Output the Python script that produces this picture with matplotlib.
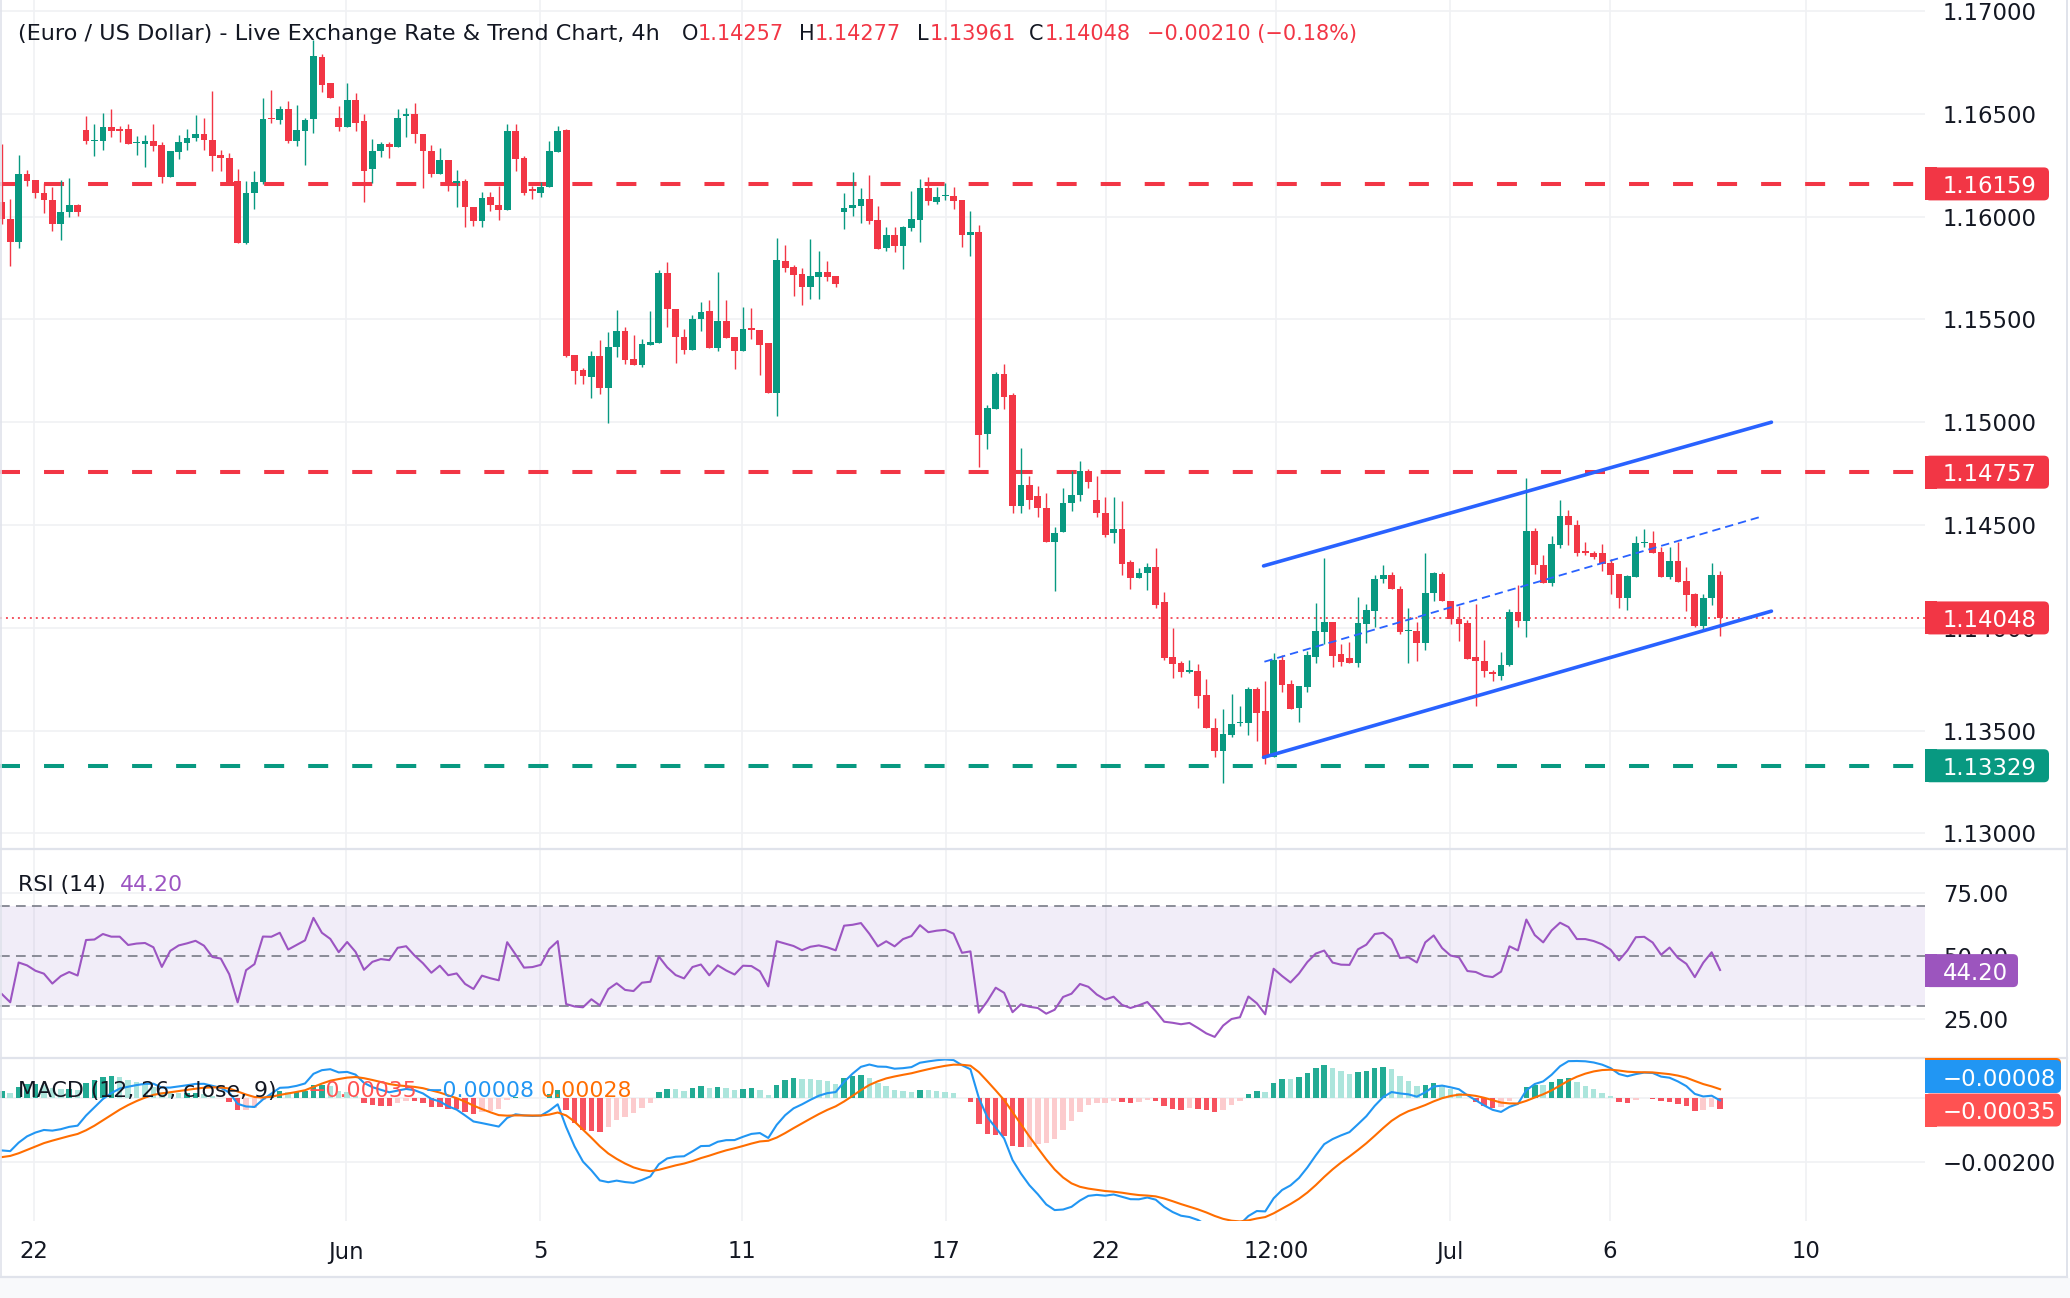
import numpy as np
import matplotlib
matplotlib.use("Agg")
import matplotlib.pyplot as plt
from matplotlib.patches import Rectangle, FancyBboxPatch
from matplotlib.lines import Line2D
from matplotlib.transforms import IdentityTransform, blended_transform_factory, offset_copy

W, H = 2070, 1298
plt.rcParams['font.family'] = ['DejaVu Sans']
plt.rcParams['lines.scale_dashes'] = False

# ---------------- data (4h candles) ----------------
opens = [1.16073, 1.15989, 1.15878, 1.16208, 1.16180, 1.16115, 1.16081, 1.15963, 1.16021, 1.16058,
         1.16419, 1.16367, 1.16367, 1.16438, 1.16424, 1.16424, 1.16360, 1.16354, 1.16370, 1.16346,
         1.16195, 1.16313, 1.16357, 1.16380, 1.16404, 1.16373, 1.16302, 1.16286, 1.16175, 1.15870,
         1.16115, 1.16170, 1.16481, 1.16471, 1.16524, 1.16367, 1.16414, 1.16476, 1.16778, 1.16648,
         1.16481, 1.16435, 1.16565, 1.16463, 1.16231, 1.16318, 1.16351, 1.16338, 1.16490, 1.16500,
         1.16403, 1.16321, 1.16205, 1.16273, 1.16164, 1.16175, 1.16049, 1.15977, 1.16094, 1.16058,
         1.16034, 1.16414, 1.16284, 1.16133, 1.16115, 1.16143, 1.16313, 1.16419, 1.15328, 1.15253,
         1.15218, 1.15323, 1.15164, 1.15365, 1.15445, 1.15307, 1.15279, 1.15377, 1.15386, 1.15727,
         1.15550, 1.15416, 1.15351, 1.15500, 1.15541, 1.15362, 1.15492, 1.15414, 1.15346, 1.15458,
         1.15448, 1.15385, 1.15143, 1.15784, 1.15755, 1.15721, 1.15659, 1.15708, 1.15731, 1.15711,
         1.16024, 1.16041, 1.16052, 1.16086, 1.15984, 1.15848, 1.15911, 1.15857, 1.15946, 1.15984,
         1.16140, 1.16073, 1.16101, 1.16101, 1.16081, 1.15911, 1.15925, 1.14942, 1.15063, 1.15234,
         1.15132, 1.14590, 1.14693, 1.14640, 1.14585, 1.14419, 1.14464, 1.14606, 1.14647, 1.14761,
         1.14624, 1.14560, 1.14459, 1.14482, 1.14321, 1.14243, 1.14267, 1.14296, 1.14125, 1.13857,
         1.13827, 1.13787, 1.13788, 1.13671, 1.13515, 1.13399, 1.13477, 1.13536, 1.13536, 1.13702,
         1.13593, 1.13370, 1.13844, 1.13725, 1.13609, 1.13711, 1.13858, 1.13980, 1.14028, 1.13871,
         1.13853, 1.13830, 1.14020, 1.14084, 1.14237, 1.14256, 1.14188, 1.13983, 1.13985, 1.13928,
         1.14170, 1.14263, 1.14131, 1.14045, 1.14024, 1.13858, 1.13837, 1.13785, 1.13768, 1.13817,
         1.14075, 1.14034, 1.14472, 1.14304, 1.14219, 1.14405, 1.14546, 1.14500, 1.14373, 1.14366,
         1.14366, 1.14315, 1.14261, 1.14145, 1.14248, 1.14412, 1.14413, 1.14369, 1.14248, 1.14325,
         1.14227, 1.14163, 1.14007, 1.14144, 1.14257]
highs = [1.16354, 1.16086, 1.16302, 1.16229, 1.16180, 1.16164, 1.16146, 1.16180, 1.16188, 1.16061,
         1.16487, 1.16448, 1.16506, 1.16524, 1.16442, 1.16448, 1.16394, 1.16399, 1.16448, 1.16365,
         1.16318, 1.16399, 1.16424, 1.16492, 1.16481, 1.16609, 1.16325, 1.16310, 1.16232, 1.16175,
         1.16224, 1.16578, 1.16614, 1.16536, 1.16562, 1.16545, 1.16481, 1.16859, 1.16791, 1.16648,
         1.16536, 1.16649, 1.16602, 1.16500, 1.16378, 1.16362, 1.16362, 1.16521, 1.16528, 1.16554,
         1.16403, 1.16346, 1.16333, 1.16276, 1.16229, 1.16183, 1.16049, 1.16122, 1.16122, 1.16148,
         1.16448, 1.16448, 1.16297, 1.16151, 1.16166, 1.16370, 1.16443, 1.16427, 1.15328, 1.15263,
         1.15347, 1.15399, 1.15440, 1.15547, 1.15461, 1.15425, 1.15404, 1.15539, 1.15742, 1.15779,
         1.15550, 1.15453, 1.15523, 1.15584, 1.15594, 1.15731, 1.15594, 1.15414, 1.15560, 1.15557,
         1.15448, 1.15385, 1.15894, 1.15862, 1.15765, 1.15750, 1.15891, 1.15833, 1.15784, 1.15711,
         1.16115, 1.16218, 1.16140, 1.16203, 1.16052, 1.15950, 1.15950, 1.15955, 1.16125, 1.16183,
         1.16193, 1.16144, 1.16164, 1.16144, 1.16081, 1.16028, 1.15959, 1.15083, 1.15245, 1.15282,
         1.15142, 1.14875, 1.14737, 1.14688, 1.14658, 1.14492, 1.14678, 1.14761, 1.14809, 1.14774,
         1.14736, 1.14634, 1.14634, 1.14619, 1.14331, 1.14292, 1.14316, 1.14389, 1.14174, 1.13998,
         1.13837, 1.13842, 1.13822, 1.13749, 1.13559, 1.13607, 1.13678, 1.13619, 1.13712, 1.13712,
         1.13739, 1.13876, 1.13868, 1.13746, 1.13715, 1.13887, 1.14121, 1.14341, 1.14028, 1.13921,
         1.13931, 1.14150, 1.14116, 1.14256, 1.14307, 1.14272, 1.14204, 1.14097, 1.14028, 1.14365,
         1.14272, 1.14272, 1.14131, 1.14107, 1.14038, 1.14116, 1.13941, 1.13793, 1.13884, 1.14092,
         1.14209, 1.14729, 1.14484, 1.14353, 1.14448, 1.14624, 1.14575, 1.14526, 1.14418, 1.14373,
         1.14408, 1.14337, 1.14261, 1.14258, 1.14448, 1.14482, 1.14472, 1.14394, 1.14394, 1.14418,
         1.14294, 1.14168, 1.14163, 1.14315, 1.14277]
lows = [1.15964, 1.15761, 1.15846, 1.16151, 1.16089, 1.16016, 1.15932, 1.15885, 1.15997, 1.16005,
        1.16354, 1.16294, 1.16326, 1.16386, 1.16365, 1.16352, 1.16302, 1.16240, 1.16321, 1.16162,
        1.16192, 1.16278, 1.16326, 1.16370, 1.16326, 1.16224, 1.16224, 1.16159, 1.15870, 1.15865,
        1.16036, 1.16159, 1.16455, 1.16451, 1.16357, 1.16344, 1.16252, 1.16408, 1.16605, 1.16578,
        1.16416, 1.16435, 1.16416, 1.16070, 1.16164, 1.16289, 1.16284, 1.16338, 1.16386, 1.16357,
        1.16138, 1.16195, 1.16205, 1.16123, 1.16049, 1.15948, 1.15953, 1.15948, 1.16026, 1.15985,
        1.16034, 1.16224, 1.16106, 1.16086, 1.16097, 1.16143, 1.16313, 1.15318, 1.15188, 1.15185,
        1.15120, 1.15136, 1.14998, 1.15318, 1.15282, 1.15279, 1.15269, 1.15377, 1.15386, 1.15461,
        1.15286, 1.15334, 1.15351, 1.15443, 1.15359, 1.15346, 1.15411, 1.15258, 1.15346, 1.15404,
        1.15229, 1.15143, 1.15029, 1.15732, 1.15614, 1.15570, 1.15601, 1.15601, 1.15687, 1.15657,
        1.15940, 1.16003, 1.15969, 1.15966, 1.15843, 1.15834, 1.15828, 1.15745, 1.15930, 1.15878,
        1.16057, 1.16063, 1.16081, 1.16037, 1.15852, 1.15808, 1.14782, 1.14869, 1.15063, 1.15063,
        1.14560, 1.14560, 1.14580, 1.14540, 1.14419, 1.14179, 1.14464, 1.14570, 1.14619, 1.14678,
        1.14541, 1.14443, 1.14414, 1.14257, 1.14189, 1.14243, 1.14184, 1.14096, 1.13842, 1.13754,
        1.13759, 1.13779, 1.13612, 1.13511, 1.13370, 1.13243, 1.13467, 1.13521, 1.13477, 1.13448,
        1.13336, 1.13370, 1.13687, 1.13603, 1.13541, 1.13687, 1.13828, 1.13923, 1.13811, 1.13814,
        1.13830, 1.13811, 1.13928, 1.14006, 1.14217, 1.14188, 1.13972, 1.13827, 1.13837, 1.13890,
        1.14131, 1.14129, 1.14020, 1.13934, 1.13850, 1.13622, 1.13759, 1.13741, 1.13748, 1.13814,
        1.14002, 1.13956, 1.14263, 1.14219, 1.14203, 1.14389, 1.14405, 1.14350, 1.14353, 1.14333,
        1.14278, 1.14165, 1.14096, 1.14087, 1.14248, 1.14395, 1.14366, 1.14248, 1.14235, 1.14222,
        1.14080, 1.14002, 1.13985, 1.14111, 1.13961]
closes = [1.15989, 1.15878, 1.16208, 1.16175, 1.16114, 1.16081, 1.15963, 1.16024, 1.16058, 1.16021,
          1.16367, 1.16373, 1.16438, 1.16416, 1.16416, 1.16352, 1.16365, 1.16370, 1.16341, 1.16192,
          1.16318, 1.16365, 1.16383, 1.16404, 1.16373, 1.16297, 1.16286, 1.16170, 1.15870, 1.16115,
          1.16170, 1.16476, 1.16474, 1.16524, 1.16367, 1.16419, 1.16471, 1.16781, 1.16640, 1.16578,
          1.16435, 1.16565, 1.16455, 1.16224, 1.16318, 1.16351, 1.16338, 1.16481, 1.16500, 1.16403,
          1.16318, 1.16205, 1.16273, 1.16159, 1.16175, 1.16045, 1.15977, 1.16089, 1.16058, 1.16034,
          1.16414, 1.16279, 1.16117, 1.16123, 1.16146, 1.16318, 1.16414, 1.15323, 1.15250, 1.15226,
          1.15323, 1.15164, 1.15367, 1.15445, 1.15304, 1.15279, 1.15380, 1.15391, 1.15727, 1.15550,
          1.15412, 1.15351, 1.15502, 1.15536, 1.15362, 1.15492, 1.15411, 1.15346, 1.15453, 1.15448,
          1.15377, 1.15143, 1.15789, 1.15752, 1.15718, 1.15659, 1.15711, 1.15731, 1.15708, 1.15674,
          1.16041, 1.16057, 1.16086, 1.15979, 1.15843, 1.15911, 1.15857, 1.15950, 1.15989, 1.16140,
          1.16076, 1.16096, 1.16106, 1.16076, 1.15911, 1.15925, 1.14937, 1.15068, 1.15234, 1.15122,
          1.14590, 1.14693, 1.14620, 1.14585, 1.14419, 1.14463, 1.14609, 1.14647, 1.14761, 1.14708,
          1.14557, 1.14453, 1.14482, 1.14311, 1.14243, 1.14267, 1.14296, 1.14111, 1.13852, 1.13822,
          1.13783, 1.13793, 1.13666, 1.13511, 1.13399, 1.13482, 1.13531, 1.13544, 1.13702, 1.13588,
          1.13370, 1.13844, 1.13722, 1.13607, 1.13715, 1.13866, 1.13985, 1.14028, 1.13863, 1.13833,
          1.13830, 1.14022, 1.14085, 1.14238, 1.14256, 1.14188, 1.13980, 1.13989, 1.13928, 1.14170,
          1.14267, 1.14129, 1.14041, 1.14020, 1.13850, 1.13837, 1.13788, 1.13773, 1.13820, 1.14075,
          1.14034, 1.14472, 1.14304, 1.14219, 1.14408, 1.14546, 1.14500, 1.14366, 1.14366, 1.14345,
          1.14312, 1.14258, 1.14145, 1.14252, 1.14413, 1.14418, 1.14366, 1.14248, 1.14325, 1.14222,
          1.14160, 1.14007, 1.14144, 1.14255, 1.14048]

# horizontal levels
level_res_top = 1.16159
level_res_mid = 1.14757
level_support = 1.13329
last_close = 1.14048

# channel lines (candle index, price)
channel_upper = [(149.8, 1.14301), (210.1, 1.15000)]
channel_lower = [(149.8, 1.13370), (210.1, 1.14081)]
channel_mid = [(149.9, 1.13835), (209.0, 1.14542)]

# axis labels
price_ticks = [1.17, 1.165, 1.16, 1.155, 1.15, 1.145, 1.14, 1.135, 1.13]
rsi_ticks = [75, 50, 25]
macd_ticks = [-0.002]
date_labels = ["22", "Jun", "5", "11", "17", "22", "12:00", "Jul", "6", "10"]
date_label_index = [3.82, 40.86, 63.9, 87.9, 112.1, 131.1, 151.3, 171.9, 190.9, 214.2]

# indicator start state
rsi_seed_gain, rsi_seed_loss = 0.000288, 0.000537
ema12_seed, ema26_seed, signal_seed = 1.1607, 1.1624, -0.0019

# legend values shown in the chart
rsi_last_text = "44.20"
macd_hist_text, macd_line_text, macd_signal_text = "\u22120.00035", "\u22120.00008", "0.00028"

# ---------------- indicators ----------------
o = np.array(opens); h = np.array(highs); l = np.array(lows); c = np.array(closes)
n = len(c)
idx = np.arange(n)


def rsi_wilder(cl, g, ls, period=14):
    out = [100 * g / (g + ls)]
    for i in range(1, len(cl)):
        ch = cl[i] - cl[i - 1]
        g = (g * (period - 1) + max(ch, 0)) / period
        ls = (ls * (period - 1) + max(-ch, 0)) / period
        out.append(100 * g / (g + ls))
    return np.array(out)


def ema(vals, period, prev):
    a = 2.0 / (period + 1)
    out = []
    e = prev
    for v in vals:
        e = e + a * (v - e)
        out.append(e)
    return np.array(out)


rsi = rsi_wilder(c, rsi_seed_gain, rsi_seed_loss)
macd = ema(c, 12, ema12_seed) - ema(c, 26, ema26_seed)
signal = ema(macd, 9, signal_seed)
hist = macd - signal

# ---------------- style ----------------
GREEN = '#089981'
RED = '#F23645'
DARK = '#131722'
GRID = '#F0F1F4'
SEP = '#E0E3EB'
BLUE = '#2962FF'
PURPLE = '#9C55C2'
MACD_BLUE = '#2196F3'
SIG_ORANGE = '#FF6D00'
FS_AX = 16.4
FS_LEG = 15.8
FS_HDR = 15.0

fig = plt.figure(figsize=(W / 100, H / 100), dpi=100)
fig.patch.set_facecolor('white')

PLOT_R = 1925


def fy(y):
    return 1 - y / H


def axes_rect(ytop, ybot):
    return [0, fy(ybot), PLOT_R / W, (ybot - ytop) / H]


ax = fig.add_axes(axes_rect(0, 848))
ax_r = fig.add_axes(axes_rect(849, 1058))
ax_m = fig.add_axes(axes_rect(1058, 1221))
xlim = (-0.214, 228.33)
for a in (ax, ax_r, ax_m):
    a.set_xlim(*xlim)
    a.axis('off')
ax.set_ylim(1.129290, 1.170535)
ax_r.set_ylim(9.52, 92.46)
ax_m.set_ylim(-0.003844, 0.00125)

# grid
for a in (ax, ax_r, ax_m):
    for xi in date_label_index:
        a.axvline(xi, color=GRID, lw=1.2, zorder=0)
for p in price_ticks:
    ax.axhline(p, color=GRID, lw=1.2, zorder=0)
for v in (75, 25):
    ax_r.axhline(v, color=GRID, lw=1.2, zorder=0)
for v in (0.0, -0.002):
    ax_m.axhline(v, color=GRID, lw=1.2, zorder=0)

# candles
up = c >= o
cols = np.where(up, GREEN, RED)
ax.vlines(idx, l, h, colors=cols, lw=1.0, zorder=3)
body_lo = np.minimum(o, c)
body_h = np.maximum(np.abs(c - o), 0.00004)
ax.bar(idx, body_h, bottom=body_lo, width=0.8, color=cols, linewidth=0, zorder=4)

# levels
for lev, col in ((level_res_top, RED), (level_res_mid, RED), (level_support, GREEN)):
    ax.axhline(lev, color=col, lw=2.9, dashes=(14.4, 17.3), zorder=2)
ax.axhline(last_close, color=RED, lw=1.2, dashes=(1.4, 2.9), zorder=2)

# channel
for seg in (channel_upper, channel_lower):
    ax.plot([seg[0][0], seg[1][0]], [seg[0][1], seg[1][1]], color=BLUE, lw=2.6,
            solid_capstyle='round', zorder=5)
ax.plot([channel_mid[0][0], channel_mid[1][0]], [channel_mid[0][1], channel_mid[1][1]],
        color=BLUE, lw=1.3, dashes=(6, 3.6), zorder=5)

# RSI
ax_r.axhspan(30, 70, color='#7E57C2', alpha=0.1, lw=0, zorder=0)
for v in (70, 50, 30):
    ax_r.axhline(v, color='#787B86', lw=1.2, dashes=(7, 4.5), zorder=1)
ax_r.plot(idx, rsi, color=PURPLE, lw=1.5, zorder=3)

# MACD
hcols = []
for i in range(n):
    prev = hist[i - 1] if i > 0 else hist[i]
    if hist[i] >= 0:
        hcols.append('#22AB94' if hist[i] >= prev else '#ACE5DC')
    else:
        hcols.append('#F7525F' if hist[i] < prev else '#FCCBCD')
ax_m.bar(idx, hist, width=0.65, color=hcols, linewidth=0, zorder=2)
ax_m.plot(idx, macd, color=MACD_BLUE, lw=1.5, zorder=3)
ax_m.plot(idx, signal, color=SIG_ORANGE, lw=1.5, zorder=3)

# separators / frame
for y in (849, 1058, 1277):
    fig.add_artist(Line2D([0, 2067 / W], [fy(y), fy(y)], color=SEP, lw=1.6, transform=fig.transFigure))
fig.add_artist(Line2D([2067 / W, 2067 / W], [fy(0), fy(1277)], color=SEP, lw=1.4, transform=fig.transFigure))
fig.add_artist(Line2D([1.2 / W, 1.2 / W], [fy(0), fy(1277)], color=SEP, lw=1.2, transform=fig.transFigure))
fig.add_artist(Rectangle((0, 0), 1, 20 / H, transform=fig.transFigure, facecolor='#F8F9FB',
                         edgecolor='none', zorder=0))

# right axis labels
TX = 1943 / W
for a, ticks, fmt in ((ax, price_ticks, '{:.5f}'), (ax_r, rsi_ticks, '{:.2f}'), (ax_m, macd_ticks, '{:.5f}')):
    tr = offset_copy(blended_transform_factory(fig.transFigure, a.transData), fig=fig, y=-2.5, units='dots')
    for t in ticks:
        s = fmt.format(t).replace('-', '\u2212')
        a.text(TX, t, s, transform=tr, fontsize=FS_AX, color=DARK, va='center', ha='left',
               clip_on=False, zorder=3)


def box_px(yc_full, text, color, x1=2049, hgt=33, z=10, show_text=True):
    yc = H - yc_full
    x0 = PLOT_R
    fig.add_artist(FancyBboxPatch((x0, yc - hgt / 2), x1 - x0, hgt,
                                  boxstyle="round,pad=0,rounding_size=5",
                                  transform=IdentityTransform(), facecolor=color,
                                  edgecolor='none', zorder=z))
    fig.add_artist(Rectangle((x0, yc - hgt / 2), 12, hgt, transform=IdentityTransform(),
                             facecolor=color, edgecolor='none', zorder=z))
    if show_text:
        fig.text(TX, (yc - 2.5) / H, text, color='white', fontsize=FS_AX, va='center', ha='left',
                 zorder=z + 0.5)


def label_box(a, value, text, color, **kw):
    yc_full = H - a.transData.transform((0, value))[1]
    box_px(yc_full, text, color, **kw)


label_box(ax, level_res_top, '1.16159', RED)
label_box(ax, level_res_mid, '1.14757', RED)
label_box(ax, last_close, '1.14048', RED)
label_box(ax, level_support, '1.13329', GREEN)
label_box(ax_r, 44.20, rsi_last_text, '#9C55BE', x1=2018)
# MACD labels stacked at the top of the MACD pane (signal box hidden behind)
box_px(1074.5, macd_signal_text, SIG_ORANGE, x1=2061, z=8, show_text=False)
box_px(1076.5, macd_line_text, MACD_BLUE, x1=2061, z=10)
box_px(1110.0, macd_hist_text, '#FF5252', x1=2061, z=12)

# date labels
trx = blended_transform_factory(ax_m.transData, fig.transFigure)
for xi, s in zip(date_label_index, date_labels):
    ax_m.text(xi, fy(1252), s, transform=trx, fontsize=FS_AX, color=DARK, ha='center', va='center',
              clip_on=False)

# header
header = [("(Euro / US Dollar) - Live Exchange Rate & Trend Chart, 4h", 18, DARK, 16.1),
          ("O", 682, DARK, FS_HDR), ("1.14257", 698, RED, FS_HDR), ("H", 799, DARK, FS_HDR),
          ("1.14277", 815, RED, FS_HDR), ("L", 917, DARK, FS_HDR), ("1.13961", 930, RED, FS_HDR),
          ("C", 1029, DARK, FS_HDR), ("1.14048", 1045, RED, FS_HDR),
          ("\u22120.00210 (\u22120.18%)", 1147, RED, FS_HDR)]
for s, x, col, fs in header:
    fig.text(x / W, fy(34), s, fontsize=fs, color=col, ha='left', va='center')

# indicator legends
fig.text(18 / W, fy(885), "RSI (14)", fontsize=FS_LEG, color=DARK, ha='left', va='center')
fig.text(120 / W, fy(885), rsi_last_text, fontsize=FS_LEG, color=PURPLE, ha='left', va='center')
fig.text(18 / W, fy(1091), "MACD (12, 26, close, 9)", fontsize=FS_LEG, color=DARK, ha='left', va='center', zorder=5)
fig.text(308 / W, fy(1091), macd_hist_text, fontsize=FS_LEG, color='#FF5252', ha='left', va='center', zorder=5)
fig.text(425 / W, fy(1091), macd_line_text, fontsize=FS_LEG, color=MACD_BLUE, ha='left', va='center', zorder=5)
fig.text(540 / W, fy(1091), macd_signal_text, fontsize=FS_LEG, color=SIG_ORANGE, ha='left', va='center', zorder=5)

fig.savefig('out.png', dpi=100, facecolor='white')
